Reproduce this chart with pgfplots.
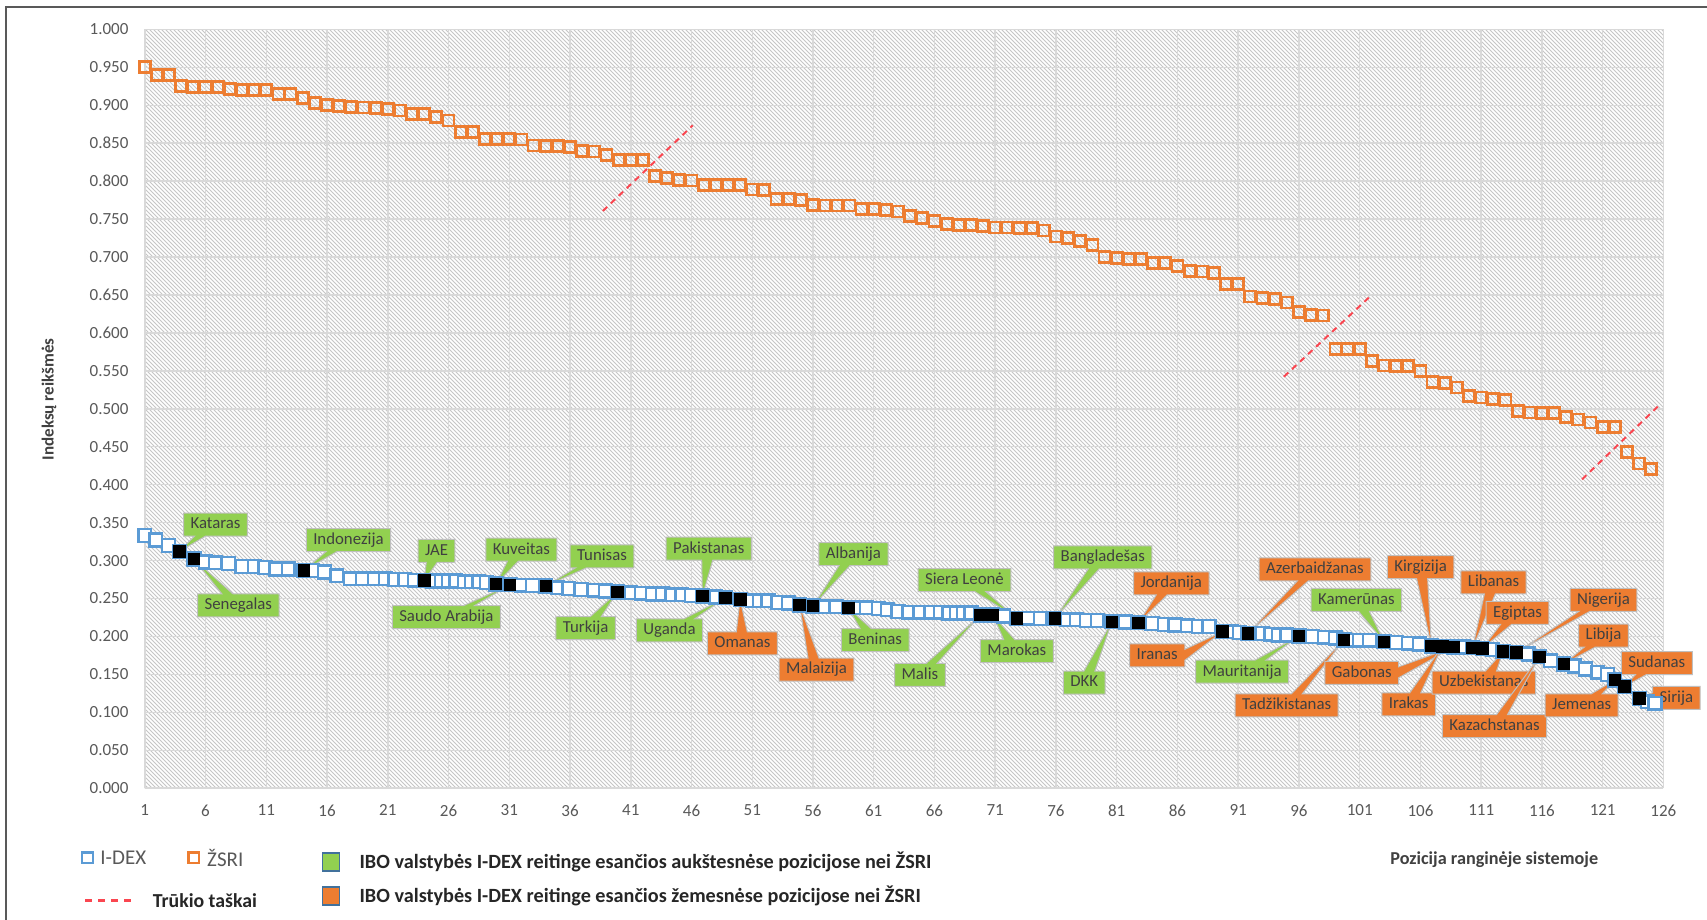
\documentclass[border=0pt]{standalone}
\usepackage{pgfplots}
\pgfplotsset{compat=1.18}
\usepackage{fontspec}
\setmainfont{Carlito}
\usetikzlibrary{patterns.meta, shapes.callouts}

\definecolor{idex}{HTML}{5B9BD5}
\definecolor{zsri}{HTML}{ED7D31}
\definecolor{ibogreen}{HTML}{92D050}
\definecolor{iboorange}{HTML}{ED7D31}
\definecolor{ticklab}{HTML}{595959}
\definecolor{labtext}{HTML}{404040}
\definecolor{breakred}{RGB}{250,70,80}
\definecolor{gridc}{HTML}{D9D9D9}
\definecolor{hatchc}{HTML}{C6C6C6}
\definecolor{framec}{HTML}{595959}
\definecolor{legborder}{HTML}{41719C}

\tikzset{
 cl/.style={rectangle callout, draw=black!25, line width=0.5pt, text=labtext,
   font=\fontsize{8.4}{9}\selectfont, inner xsep=3.5pt, inner ysep=1.8pt,
   text height=6.1pt, text depth=1.8pt, callout pointer width=5.5pt},
 cg/.style={cl, fill=ibogreen},
 co/.style={cl, fill=iboorange},
}

\pgfplotstableread{
x y
1 0.950
2 0.940
3 0.940
4 0.925
5 0.924
6 0.924
7 0.924
8 0.921
9 0.920
10 0.920
11 0.920
12 0.915
13 0.915
14 0.910
15 0.903
16 0.900
17 0.899
18 0.898
19 0.897
20 0.896
21 0.895
22 0.893
23 0.889
24 0.888
25 0.885
26 0.880
27 0.865
28 0.865
29 0.856
30 0.856
31 0.856
32 0.855
33 0.847
34 0.846
35 0.846
36 0.845
37 0.840
38 0.839
39 0.835
40 0.828
41 0.828
42 0.828
43 0.807
44 0.804
45 0.802
46 0.801
47 0.795
48 0.795
49 0.795
50 0.795
51 0.789
52 0.788
53 0.776
54 0.776
55 0.775
56 0.769
57 0.768
58 0.768
59 0.768
60 0.763
61 0.763
62 0.762
63 0.760
64 0.754
65 0.751
66 0.747
67 0.744
68 0.742
69 0.742
70 0.741
71 0.739
72 0.739
73 0.738
74 0.738
75 0.735
76 0.727
77 0.725
78 0.721
79 0.716
80 0.700
81 0.699
82 0.697
83 0.697
84 0.692
85 0.692
86 0.688
87 0.682
88 0.681
89 0.679
90 0.665
91 0.665
92 0.648
93 0.646
94 0.645
95 0.640
96 0.628
97 0.624
98 0.623
99 0.579
100 0.579
101 0.579
102 0.563
103 0.557
104 0.556
105 0.556
106 0.550
107 0.535
108 0.534
109 0.528
110 0.517
111 0.515
112 0.513
113 0.512
114 0.497
115 0.495
116 0.494
117 0.494
118 0.489
119 0.486
120 0.482
121 0.476
122 0.476
123 0.443
124 0.428
125 0.421
}\zsritable

\pgfplotstableread{
x y
1.0 0.333
1.9 0.327
2.95 0.320
3.84 0.312
5.05 0.302
6.0 0.298
6.8 0.297
7.9 0.296
9.0 0.292
10.0 0.292
10.9 0.291
11.8 0.289
12.8 0.289
14.1 0.287
14.8 0.287
15.8 0.285
16.8 0.280
17.9 0.276
18.9 0.276
19.9 0.276
20.8 0.276
21.6 0.275
22.4 0.275
23.2 0.274
24.0 0.2735
24.7 0.273
25.4 0.273
26.0 0.273
26.6 0.273
27.3 0.272
27.9 0.272
28.5 0.272
29.1 0.271
29.9 0.269
31.06 0.268
32.0 0.2675
32.9 0.267
34.0 0.2665
35.0 0.264
35.9 0.263
36.9 0.262
38.0 0.261
38.9 0.260
39.9 0.2585
41.0 0.2575
41.9 0.257
42.8 0.256
43.6 0.256
44.4 0.255
45.2 0.255
46.0 0.254
46.9 0.2533
48.0 0.252
48.8 0.251
50.0 0.249
51.0 0.247
51.6 0.247
52.3 0.247
53.1 0.245
54.0 0.244
54.9 0.2414
56.0 0.240
57.0 0.239
57.9 0.239
58.9 0.2377
59.6 0.2377
60.4 0.2377
61.4 0.237
62.1 0.235
63.0 0.233
63.9 0.232
64.8 0.232
65.7 0.232
66.5 0.232
67.2 0.231
67.8 0.231
68.4 0.231
69.0 0.231
69.8 0.2283
70.8 0.2283
71.7 0.227
72.8 0.224
73.7 0.224
74.7 0.2235
75.9 0.2235
76.9 0.222
77.7 0.222
78.5 0.221
79.4 0.221
80.6 0.2194
81.7 0.219
82.8 0.218
83.9 0.217
84.9 0.216
85.8 0.215
86.8 0.214
87.7 0.213
88.6 0.213
89.7 0.2063
90.4 0.206
91.1 0.205
91.8 0.204
93.0 0.204
93.7 0.203
94.3 0.202
95.0 0.202
96.0 0.2006
97.1 0.200
98.1 0.199
99.0 0.198
99.7 0.1953
100.3 0.195
101.0 0.195
101.8 0.195
103.0 0.193
104.0 0.192
105.0 0.191
105.9 0.190
106.9 0.1874
107.8 0.187
108.7 0.186
109.5 0.186
110.3 0.185
111.1 0.1844
111.9 0.183
112.8 0.180
113.9 0.179
114.9 0.177
115.8 0.1733
116.7 0.168
117.8 0.1637
118.7 0.161
119.6 0.157
120.6 0.153
121.4 0.150
122.0 0.1426
122.8 0.134
124.0 0.1185
124.7 0.114
125.3 0.112
}\idextable

\pgfplotstableread{
x y
3.84 0.312
5.05 0.302
14.1 0.287
24.0 0.2735
29.9 0.269
31.06 0.268
34.0 0.2665
39.9 0.2585
46.9 0.2533
48.8 0.251
50.0 0.249
54.9 0.2414
56.0 0.240
58.9 0.2377
69.8 0.2283
70.8 0.2283
72.8 0.224
75.9 0.2235
80.6 0.2194
82.8 0.218
89.7 0.2063
91.8 0.204
96.0 0.2006
99.7 0.1953
103.0 0.193
106.9 0.1874
107.8 0.187
108.7 0.186
110.3 0.185
111.1 0.1844
112.8 0.180
113.9 0.179
115.8 0.1733
117.8 0.1637
122.0 0.1426
122.8 0.134
124.0 0.1185
}\ibotable

\begin{document}
\begin{tikzpicture}
\useasboundingbox (0pt,0pt) rectangle (853.5pt,-460pt);
\fill[white] (0pt,0pt) rectangle (853.5pt,-460pt);
\draw[framec, line width=0.8pt] (2.85pt,-3.5pt) rectangle (880pt,-480pt);

\begin{axis}[
  scale only axis, width=759.3pt, height=379.4pt,
  at={(72.4pt,-394.1pt)}, anchor=south west,
  xmin=1, xmax=126, ymin=0, ymax=1,
  xtick={1,6,...,126},
  ytick={0,0.05,0.1,0.15,0.2,0.25,0.3,0.35,0.4,0.45,0.5,0.55,0.6,0.65,0.7,0.75,0.8,0.85,0.9,0.95,1},
  scaled y ticks=false,
  grid=major, grid style={gridc, line width=0.75pt},
  major tick length=0pt,
  axis line style={draw=none},
  clip=false,
  /pgf/number format/assume math mode=true,
  axis background/.style={pattern={Lines[angle=-45,distance=1.41421pt,line width=0.45pt]}, pattern color=hatchc},
  xticklabel style={font=\fontsize{8.5}{10}\selectfont, text=ticklab, inner sep=0pt, yshift=-8pt},
  yticklabel style={font=\fontsize{8.5}{10}\selectfont, text=ticklab, inner sep=0pt, xshift=-8pt,
     /pgf/number format/fixed, /pgf/number format/fixed zerofill, /pgf/number format/precision=3},
]
\addplot[only marks, mark=square, mark size=2.75pt, mark options={draw=zsri, line width=1.4pt}] table[x=x,y=y] {\zsritable};
\addplot[breakred, line width=1pt, dash pattern=on 3pt off 2.5pt] coordinates {(38.7,0.7607) (46.1,0.8735)};
\addplot[breakred, line width=1pt, dash pattern=on 3pt off 2.5pt] coordinates {(94.76,0.5423) (101.83,0.6477)};
\addplot[breakred, line width=1pt, dash pattern=on 3pt off 2.5pt] coordinates {(119.3,0.407) (125.67,0.505)};
\addplot[only marks, mark=square*, mark size=3.2pt, mark options={draw=idex, fill=white, line width=1.2pt}] table[x=x,y=y] {\idextable};
\addplot[only marks, mark=square*, mark size=2.9pt, mark options={draw=black, fill=black, line width=0.4pt}] table[x=x,y=y] {\ibotable};

\node[cg, callout absolute pointer={(axis cs:3.84,0.312)}] at (axis cs:6.82,0.3473) {Kataras};
\node[cg, callout absolute pointer={(axis cs:5.05,0.302)}] at (axis cs:8.70,0.2410) {Senegalas};
\node[cg, callout absolute pointer={(axis cs:14.1,0.287)}] at (axis cs:17.76,0.3271) {Indonezija};
\node[cg, callout absolute pointer={(axis cs:24.0,0.2735)}] at (axis cs:25.01,0.3129) {JAE};
\node[cg, callout absolute pointer={(axis cs:31.06,0.268)}] at (axis cs:25.82,0.2254) {Saudo Arabija};
\node[cg, callout absolute pointer={(axis cs:29.9,0.269)}] at (axis cs:32.0,0.3143) {Kuveitas};
\node[cg, callout absolute pointer={(axis cs:34.0,0.2665)}] at (axis cs:38.63,0.3056) {Tunisas};
\node[cg, callout absolute pointer={(axis cs:39.9,0.2585)}] at (axis cs:37.29,0.2110) {Turkija};
\node[cg, callout absolute pointer={(axis cs:48.8,0.251)}] at (axis cs:44.19,0.2081) {Uganda};
\node[cg, callout absolute pointer={(axis cs:46.9,0.2533)}] at (axis cs:47.42,0.3156) {Pakistanas};
\node[cg, callout absolute pointer={(axis cs:56.0,0.240)}] at (axis cs:59.33,0.3085) {Albanija};
\node[cg, callout absolute pointer={(axis cs:58.9,0.2377)}] at (axis cs:61.12,0.1953) {Beninas};
\node[cg, callout absolute pointer={(axis cs:69.8,0.2283)}] at (axis cs:64.80,0.1492) {Malis};
\node[cg, callout absolute pointer={(axis cs:72.8,0.224)}] at (axis cs:68.47,0.2741) {Siera Leonė};
\node[cg, callout absolute pointer={(axis cs:70.8,0.2283)}] at (axis cs:72.78,0.1808) {Marokas};
\node[cg, callout absolute pointer={(axis cs:75.9,0.2235)}] at (axis cs:79.85,0.3042) {Bangladešas};
\node[cg, callout absolute pointer={(axis cs:80.6,0.2194)}] at (axis cs:78.32,0.1392) {DKK};
\node[cg, callout absolute pointer={(axis cs:96.0,0.2006)}] at (axis cs:91.32,0.1535) {Mauritanija};
\node[cg, callout absolute pointer={(axis cs:103.0,0.193)}] at (axis cs:100.73,0.2483) {Kamerūnas};

\node[co, callout absolute pointer={(axis cs:50.0,0.249)}] at (axis cs:50.19,0.1908) {Omanas};
\node[co, callout absolute pointer={(axis cs:54.9,0.2414)}] at (axis cs:56.29,0.1564) {Malaizija};
\node[co, callout absolute pointer={(axis cs:82.8,0.218)}] at (axis cs:85.49,0.2698) {Jordanija};
\node[co, callout absolute pointer={(axis cs:89.7,0.2063)}] at (axis cs:84.33,0.1751) {Iranas};
\node[co, callout absolute pointer={(axis cs:91.8,0.204)}] at (axis cs:97.32,0.2885) {Azerbaidžanas};
\node[co, callout absolute pointer={(axis cs:99.7,0.1953)}] at (axis cs:94.99,0.1091) {Tadžikistanas};
\node[co, callout absolute pointer={(axis cs:108.7,0.186)}] at (axis cs:101.17,0.1521) {Gabonas};
\node[co, callout absolute pointer={(axis cs:106.9,0.1874)}] at (axis cs:106.01,0.2913) {Kirgizija};
\node[co, callout absolute pointer={(axis cs:107.8,0.187)}] at (axis cs:105.03,0.1106) {Irakas};
\node[co, callout absolute pointer={(axis cs:110.3,0.185)}] at (axis cs:112.02,0.2712) {Libanas};
\node[co, callout absolute pointer={(axis cs:111.1,0.1844)}] at (axis cs:113.99,0.2310) {Egiptas};
\node[co, callout absolute pointer={(axis cs:112.8,0.180)}] at (axis cs:111.22,0.1392) {Uzbekistanas};
\node[co, callout absolute pointer={(axis cs:115.8,0.1733)}] at (axis cs:112.10,0.0818) {Kazachstanas};
\node[co, callout absolute pointer={(axis cs:113.9,0.179)}] at (axis cs:121.07,0.2483) {Nigerija};
\node[co, callout absolute pointer={(axis cs:117.8,0.1637)}] at (axis cs:121.07,0.2010) {Libija};
\node[co, callout absolute pointer={(axis cs:122.8,0.134)}] at (axis cs:125.46,0.1650) {Sudanas};
\node[co, callout absolute pointer={(axis cs:122.0,0.1426)}] at (axis cs:119.27,0.1091) {Jemenas};
\node[co, callout absolute pointer={(axis cs:124.0,0.1185)}] at (axis cs:127.07,0.1191) {Sirija};
\end{axis}

% axis titles
\node[rotate=90, font=\bfseries\fontsize{8.5}{10}\selectfont, text=labtext] at (24.5pt,-199.75pt) {Indeksų reikšmės};
\node[anchor=west, inner sep=0pt, font=\bfseries\fontsize{9.1}{10}\selectfont, text=labtext] at (695pt,-430pt) {Pozicija ranginėje sistemoje};

% legend
\draw[idex, line width=1.1pt, fill=white] (40.95pt,-431.6pt) rectangle ++(5.4pt,5.4pt);
\node[anchor=west, inner sep=0pt, font=\fontsize{10.5}{12}\selectfont, text=ticklab] at (50pt,-428.9pt) {I-DEX};
\draw[zsri, line width=1.1pt] (94.2pt,-431.6pt) rectangle ++(5.4pt,5.4pt);
\node[anchor=west, inner sep=0pt, font=\fontsize{10.5}{12}\selectfont, text=ticklab] at (103.4pt,-428.9pt) {ŽSRI};
\draw[breakred, line width=1.4pt, dash pattern=on 3.5pt off 3pt] (42.5pt,-450.2pt) -- (67.5pt,-450.2pt);
\node[anchor=west, inner sep=0pt, font=\bfseries\fontsize{9.9}{11}\selectfont, text=black!85] at (76.2pt,-450.2pt) {Trūkio taškai};
\draw[fill=ibogreen, draw=legborder, line width=0.6pt] (161.2pt,-435.5pt) rectangle (169.8pt,-426.5pt);
\node[anchor=west, inner sep=0pt, font=\bfseries\fontsize{10.1}{11}\selectfont, text=black!85] at (179.6pt,-431pt) {IBO valstybės I-DEX reitinge esančios aukštesnėse pozicijose nei ŽSRI};
\draw[fill=iboorange, draw=legborder, line width=0.6pt] (161.2pt,-452.5pt) rectangle (169.8pt,-443.5pt);
\node[anchor=west, inner sep=0pt, font=\bfseries\fontsize{10.1}{11}\selectfont, text=black!85] at (179.6pt,-448pt) {IBO valstybės I-DEX reitinge esančios žemesnėse pozicijose nei ŽSRI};
\end{tikzpicture}
\end{document}
